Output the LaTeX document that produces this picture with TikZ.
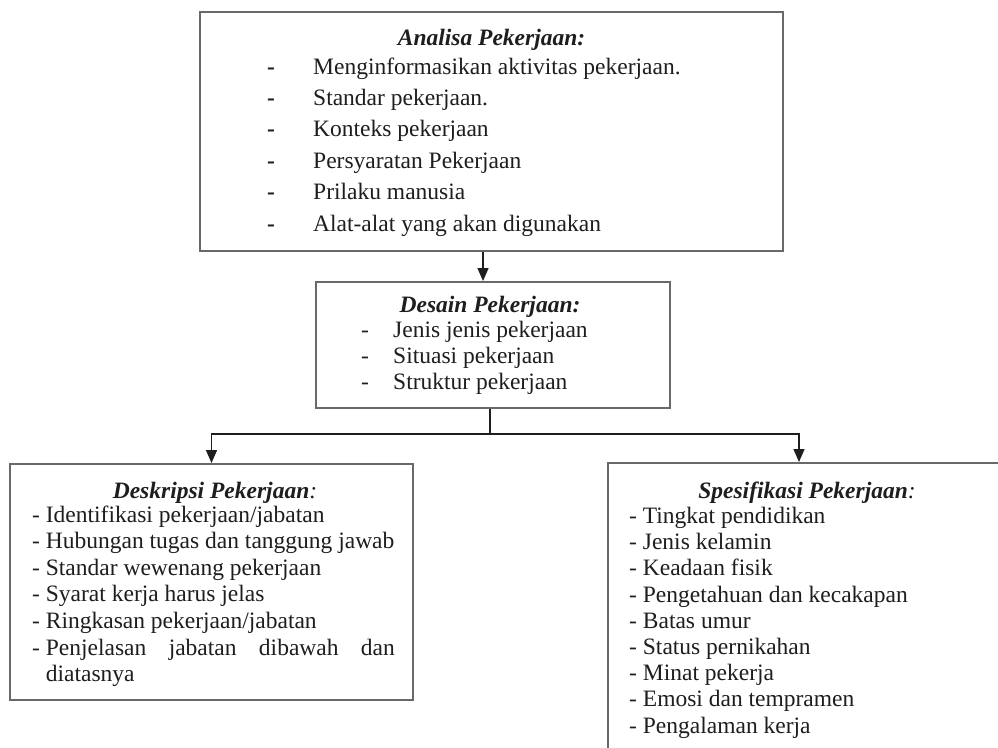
\documentclass[tikz,border=0pt]{standalone}
\usepackage{fontspec}
\setmainfont{Liberation Serif}
\usetikzlibrary{arrows.meta}
\definecolor{bordergray}{RGB}{105,105,105}
\definecolor{ink}{RGB}{30,30,30}
\begin{document}
\begin{tikzpicture}[x=1pt,y=-1pt,
  boxnode/.style={draw=bordergray, line width=2pt, rectangle, inner sep=0pt},
  conn/.style={draw=ink, line width=1.4pt},
  arr/.style={conn, -{Triangle[width=11pt,length=13pt]}},
  itemtxt/.style={inner sep=0pt, anchor=base west, text=ink, font=\fontsize{23.5}{27}\selectfont},
  titletxt/.style={inner sep=0pt, anchor=base, text=ink, font=\fontsize{23.5}{27}\selectfont\bfseries\itshape},
]
\useasboundingbox (0,0) rectangle (998,747);
\clip (0,0) rectangle (998,747);
\fill[white] (0,0) rectangle (998,747);

% boxes
\node[boxnode, minimum width=583pt, minimum height=239pt] (ana) at (491.5,131.5) {};
\node[boxnode, minimum width=354pt, minimum height=126pt] (des) at (493,345) {};
\node[boxnode, minimum width=403pt, minimum height=236pt] (desk) at (211.5,582) {};
\node[boxnode, minimum width=402pt, minimum height=300pt] (spes) at (809,613) {};

% connectors
\coordinate (ax) at (483,0);
\coordinate (jx) at (490,434);
\coordinate (rx) at (799,434);
\draw[arr] (ana.south -| ax) -- (des.north -| ax);
\draw[conn] (des.south -| jx) -- (jx);
\draw[arr] (jx) -| (desk.north);
\draw[arr] (jx) -| (spes.north -| rx);

% Analisa Pekerjaan
\node[titletxt] (anat) at (491.5,45) {Analisa Pekerjaan:};
\foreach [count=\i from 0] \t in {Menginformasikan aktivitas pekerjaan., Standar pekerjaan., Konteks pekerjaan, Persyaratan Pekerjaan, Prilaku manusia, Alat-alat yang akan digunakan} {
  \node[itemtxt] (anad\i) at (267,{74+31.4*\i}) {\bfseries -};
  \node[itemtxt] (anai\i) at (313,{74+31.4*\i}) {\t};
}

% Desain Pekerjaan
\node[titletxt] (dest) at (490,312) {Desain Pekerjaan:};
\foreach [count=\i from 0] \t in {Jenis jenis pekerjaan, Situasi pekerjaan, Struktur pekerjaan} {
  \node[itemtxt] (desd\i) at (361,{337+26*\i}) {-};
  \node[itemtxt] (desi\i) at (393,{337+26*\i}) {\t};
}

% Deskripsi Pekerjaan
\node[titletxt] (deskt) at (215,498) {Deskripsi Pekerjaan{\mdseries:}};
\foreach [count=\i from 0] \t in {Identifikasi pekerjaan/jabatan, Hubungan tugas dan tanggung jawab, Standar wewenang pekerjaan, Syarat kerja harus jelas, Ringkasan pekerjaan/jabatan} {
  \node[itemtxt] (deski\i) at (32,{522+26.6*\i}) {- \t};
}
\node[itemtxt] (deski5) at (32,{522+26.6*5}) {- \makebox[349pt][s]{Penjelasan jabatan dibawah dan}};
\node[itemtxt] (deski6) at (45.7,{522+26.6*6}) {diatasnya};

% Spesifikasi Pekerjaan
\node[titletxt] (spest) at (807,498) {Spesifikasi Pekerjaan{\mdseries:}};
\foreach [count=\i from 0] \t in {Tingkat pendidikan, Jenis kelamin, Keadaan fisik, Pengetahuan dan kecakapan, Batas umur, Status pernikahan, Minat pekerja, Emosi dan tempramen, Pengalaman kerja} {
  \node[itemtxt] (spesi\i) at (629,{523.4+26.2*\i}) {- \t};
}
\end{tikzpicture}
\end{document}
